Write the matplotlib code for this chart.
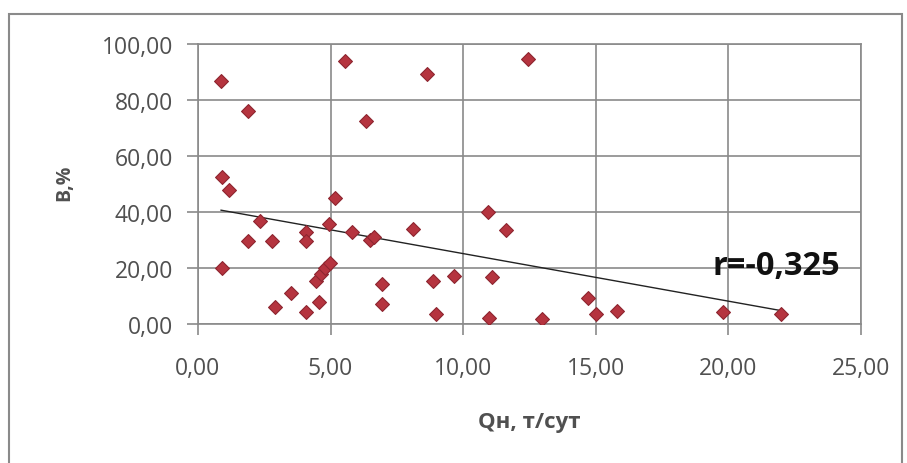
import numpy as np
import matplotlib
matplotlib.use("Agg")
import matplotlib.pyplot as plt
from matplotlib.patches import Rectangle
from matplotlib.ticker import FuncFormatter

# Qн, т/сут  vs  В,%
q_oil = [0.87, 1.89, 0.90, 1.17, 0.90, 1.90, 2.34, 2.80, 2.90, 3.50,
         4.07, 4.07, 4.07, 4.45, 4.57, 4.65, 4.80, 4.98, 4.94, 5.17,
         5.55, 5.80, 6.34, 6.50, 6.62, 6.94, 6.94, 8.64, 12.45, 8.10,
         8.87, 8.98, 9.66, 10.94, 11.60, 11.10, 10.98, 12.98, 14.70, 15.00,
         15.80, 19.80, 22.00]
water = [86.8, 76.0, 52.5, 48.0, 20.0, 29.6, 36.8, 29.6, 6.0, 11.0,
         33.0, 29.6, 4.3, 15.5, 8.0, 18.0, 20.0, 21.8, 35.7, 45.0,
         94.0, 33.0, 72.5, 30.0, 31.0, 14.3, 7.0, 89.3, 94.6, 34.0,
         15.4, 3.6, 17.1, 40.0, 33.6, 16.8, 2.1, 1.8, 9.3, 3.6,
         4.6, 4.3, 3.6]
r_label = "r=-0,325"

x = np.array(q_oil)
y = np.array(water)

plt.rcParams['font.family'] = ['Open Sans', 'DejaVu Sans']
grey = '#8a8a8a'
txt = '#505050'

fig = plt.figure(figsize=(9.07, 4.64), dpi=100)
ax = fig.add_axes([198/907, 1 - 325/464, 663/907, 280/464])

ax.scatter(x, y, marker='D', s=50, color='#b5343f', edgecolors='#8e2630',
           linewidths=0.8, zorder=3)

# linear trend (Excel-style)
k, b = np.polyfit(x, y, 1)
xl = np.array([x.min(), x.max()])
ax.plot(xl, k * xl + b, color='#222222', lw=1.0, zorder=2)

ax.set_xlim(0, 25)
ax.set_ylim(0, 100)
ax.set_xticks(np.arange(0, 26, 5))
ax.set_yticks(np.arange(0, 101, 20))
fmt = FuncFormatter(lambda v, p: f"{v:.2f}".replace('.', ','))
ax.xaxis.set_major_formatter(fmt)
ax.yaxis.set_major_formatter(fmt)
ax.grid(True, color=grey, lw=1.2)
ax.set_axisbelow(True)
for s in ax.spines.values():
    s.set_color(grey)
    s.set_linewidth(1.2)
ax.tick_params(direction='out', length=8, width=1.2, color=grey,
               labelsize=16.5, labelcolor=txt)
ax.tick_params(axis='y', pad=10)
ax.tick_params(axis='x', pad=15)

ax.set_xlabel('Qн, т/сут', fontsize=16, fontweight='bold', color=txt)
ax.xaxis.set_label_coords(0.5, -(412 - 325)/280)
ax.set_ylabel('В,%', fontsize=14, fontweight='bold', color=txt)
ax.yaxis.set_label_coords(-(198 - 74)/663, 0.507)

ax.text(19.4, 20.8, r_label, fontsize=23.5, fontweight='bold', color='#111111',
        ha='left', va='center')

# outer chart border
fig.add_artist(Rectangle((9/907, -0.1), (902 - 9)/907, 1.1 - 15/464,
                         transform=fig.transFigure, fill=False,
                         edgecolor=grey, lw=1.5))

fig.savefig('out.png', dpi=100)
